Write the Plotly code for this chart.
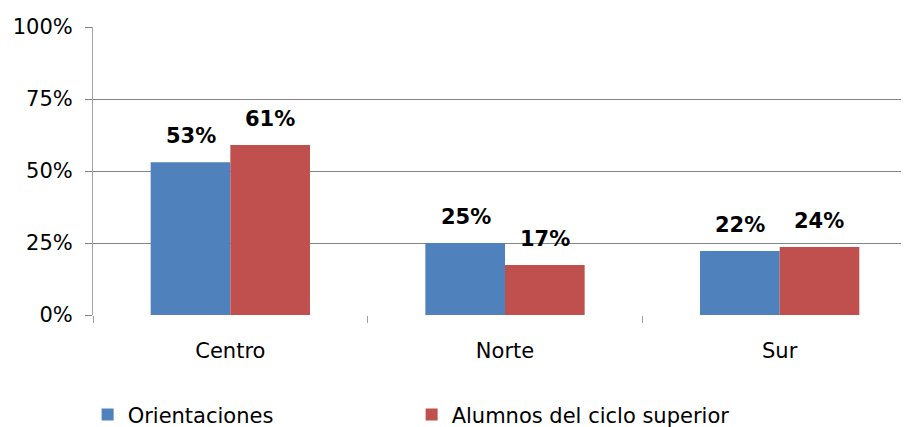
import plotly.graph_objects as go

# data
regions = ["Centro", "Norte", "Sur"]
orientaciones = [0.53, 0.25, 0.222]
alumnos = [0.59, 0.174, 0.236]
orientaciones_labels = ["53%", "25%", "22%"]
alumnos_labels = ["61%", "17%", "24%"]
y_ticks = [0, 0.25, 0.5, 0.75, 1.0]
y_tick_labels = ["0%", "25%", "50%", "75%", "100%"]

BLUE = "#4F81BD"
RED = "#C0504D"
FONT = "DejaVu Sans, Arial, sans-serif"

fig = go.Figure()
fig.add_trace(go.Bar(x=regions, y=orientaciones, name="Orientaciones",
                     marker=dict(color=BLUE, line=dict(width=0))))
fig.add_trace(go.Bar(x=regions, y=alumnos, name="Alumnos del ciclo superior",
                     marker=dict(color=RED, line=dict(width=0))))

# value labels sit well above each bar, as in the original
for vals, labels, shift in [(orientaciones, orientaciones_labels, -39.5),
                            (alumnos, alumnos_labels, 39.5)]:
    for reg, v, lab in zip(regions, vals, labels):
        fig.add_annotation(x=reg, y=v, text="<b>" + lab + "</b>", showarrow=False,
                           xshift=shift, yshift=26, yanchor="middle",
                           font=dict(size=21, color="black", family=FONT))

# page body adds 8px, so margins are reduced by that amount
fig.update_layout(
    width=909, height=427,
    margin=dict(l=85, r=0, t=19, b=120),
    plot_bgcolor="white", paper_bgcolor="white",
    barmode="group", bargap=0.42, bargroupgap=0,
    font=dict(family=FONT, size=21, color="black"),
    showlegend=True,
    legend=dict(orientation="h", xref="container", yref="container",
                x=0.0876, y=0.047, xanchor="left", yanchor="middle",
                entrywidth=279, entrywidthmode="pixels",
                font=dict(size=21, family=FONT), traceorder="normal"),
)
fig.update_xaxes(showgrid=False, showline=False, ticks="outside", tickson="boundaries",
                 ticklen=7, tickcolor="#A0A0A0", tickfont=dict(size=21),
                 ticklabelstandoff=21)
fig.update_yaxes(range=[0, 1.0], tickvals=y_ticks, ticktext=y_tick_labels,
                 showgrid=True, gridcolor="#868686", gridwidth=1,
                 showline=True, linecolor="#A0A0A0", linewidth=1,
                 ticks="outside", ticklen=7, tickcolor="#868686",
                 zeroline=False, tickfont=dict(size=21), ticklabelstandoff=8)

fig.write_html("out.html")
